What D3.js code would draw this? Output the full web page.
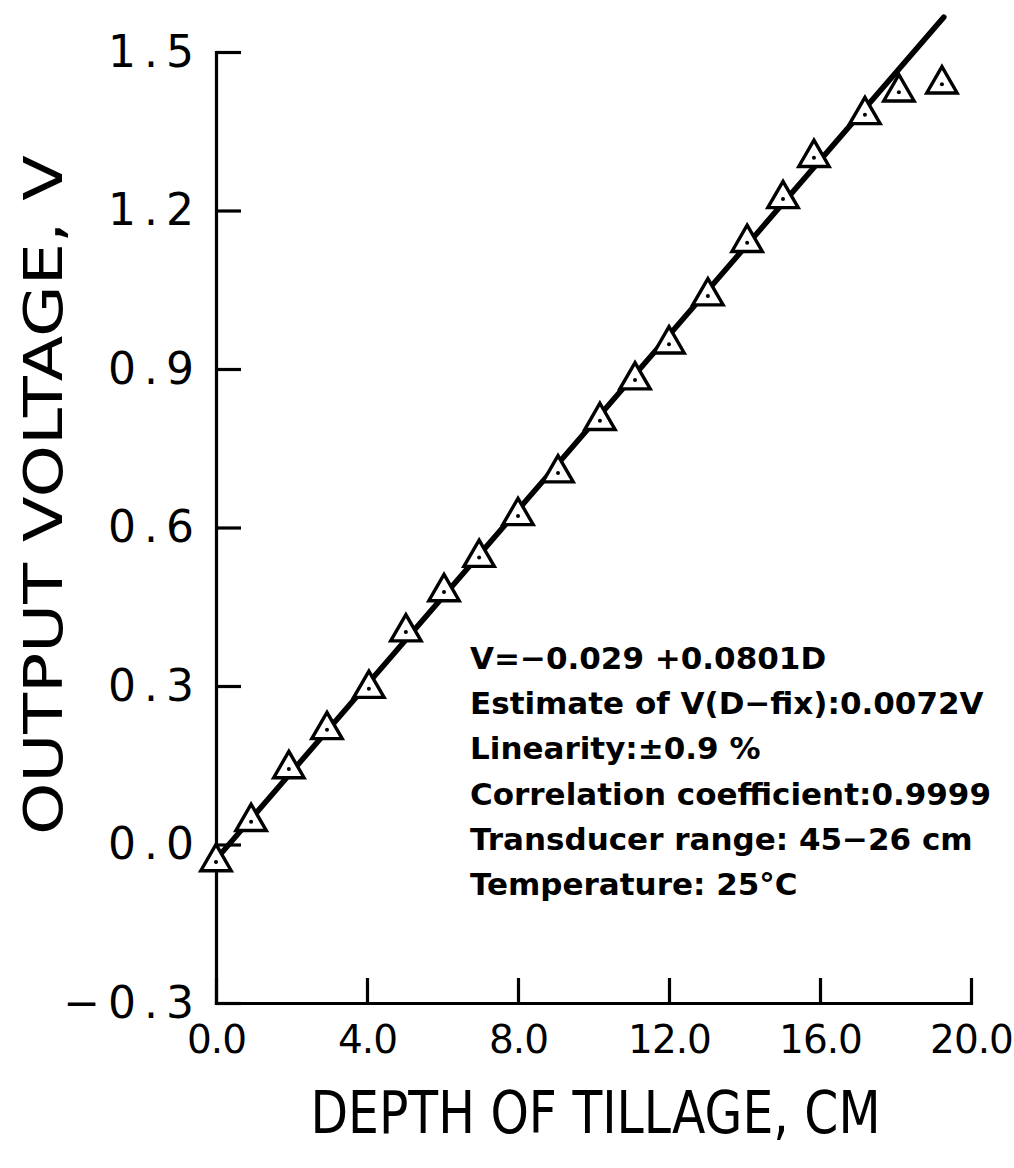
<!DOCTYPE html>
<html>
<head>
<meta charset="utf-8">
<script src="https://cdn.jsdelivr.net/npm/d3@7"></script>
<style>
  html, body { margin: 0; padding: 0; background: #fff; }
  svg { display: block; }
</style>
</head>
<body>
<div id="chart"></div>
<script>
// ---- data ----
const depth   = [0, 0.93, 1.93, 2.94, 4.05, 5.03, 6.04, 6.97, 8.0, 9.06, 10.17, 11.1, 12.0, 13.03, 14.07, 15.02, 15.84, 17.19, 18.09, 19.23];
const voltage = [-0.033, 0.043, 0.143, 0.217, 0.295, 0.402, 0.478, 0.543, 0.622, 0.703, 0.802, 0.879, 0.947, 1.038, 1.139, 1.222, 1.300, 1.381, 1.424, 1.439];
const fitDepth   = [0.1, 19.28];
const fitVoltage = [-0.02, 1.566];
const xTicks = [0, 4, 8, 12, 16, 20];
const yTicks = [-0.3, 0, 0.3, 0.6, 0.9, 1.2, 1.5];
const xTitle = "DEPTH OF TILLAGE, CM";
const yTitle = "OUTPUT VOLTAGE, V";
const notes = [
  "V=\u22120.029 +0.0801D",
  "Estimate of V(D\u2212fix):0.0072V",
  "Linearity:\u00b10.9 %",
  "Correlation coefficient:0.9999",
  "Transducer range: 45\u221226 cm",
  "Temperature: 25\u00b0C"
];

// ---- drawing ----
const W = 1014, H = 1168;
const svg = d3.select("#chart").append("svg")
  .attr("width", W).attr("height", H)
  .style("background", "#fff");

const x = d3.scaleLinear().domain([0, 20]).range([216, 971]);
const y = d3.scaleLinear().domain([-0.3, 1.5]).range([1003, 52]);

const fmt = d3.format(".1f");
const font = "'DejaVu Sans', sans-serif";

const xAxis = d3.axisBottom(x).tickValues(xTicks).tickFormat(fmt)
  .tickSizeInner(-25).tickSizeOuter(0).tickPadding(22);
const yAxis = d3.axisLeft(y).tickValues(yTicks).tickFormat(fmt)
  .tickSizeInner(-25).tickSizeOuter(0).tickPadding(14);

const gx = svg.append("g").attr("transform", "translate(0,1003)").call(xAxis);
const gy = svg.append("g").attr("transform", "translate(216,0)").call(yAxis);

[gx, gy].forEach(g => {
  g.select(".domain").attr("stroke", "#000").attr("stroke-width", 3.2).attr("stroke-linecap", "square");
  g.selectAll(".tick line").attr("stroke", "#000").attr("stroke-width", 3.2);
  g.selectAll(".tick text")
    .attr("fill", "#000")
    .style("font-family", font);
});
gy.selectAll(".tick text").style("font-size", "44px").style("letter-spacing", "8px");
gx.selectAll(".tick text").style("font-size", "39px").style("letter-spacing", "-1px");

// fitted line
const line = d3.line().x(d => x(d[0])).y(d => y(d[1]));
svg.append("path")
  .datum(fitDepth.map((d, i) => [d, fitVoltage[i]]))
  .attr("d", line)
  .attr("fill", "none")
  .attr("stroke", "#000")
  .attr("stroke-width", 5.5)
  .attr("stroke-linecap", "round");

// triangles
const pts = depth.map((d, i) => [d, voltage[i]]);
const tri = d3.symbol().type(d3.symbolTriangle).size(400);
const pg = svg.append("g");
pg.selectAll("path.tri").data(pts).join("path")
  .attr("class", "tri")
  .attr("d", tri)
  .attr("transform", d => `translate(${x(d[0])},${y(d[1])})`)
  .attr("fill", "#fff")
  .attr("stroke", "#000")
  .attr("stroke-width", 3.4)
  .attr("stroke-linejoin", "miter");
pg.selectAll("circle.dot").data(pts).join("circle")
  .attr("class", "dot")
  .attr("cx", d => x(d[0]))
  .attr("cy", d => y(d[1]))
  .attr("r", 2)
  .attr("fill", "#000");

// axis titles
svg.append("text")
  .attr("x", (x(0) + x(20)) / 2 + 2)
  .attr("y", 1133)
  .attr("text-anchor", "middle")
  .attr("textLength", 570)
  .attr("lengthAdjust", "spacingAndGlyphs")
  .style("font-family", font)
  .style("font-size", "58px")
  .attr("fill", "#000")
  .text(xTitle);

svg.append("text")
  .attr("transform", "translate(62,495) rotate(-90)")
  .attr("text-anchor", "middle")
  .attr("textLength", 680)
  .attr("lengthAdjust", "spacingAndGlyphs")
  .style("font-family", font)
  .style("font-size", "54px")
  .attr("fill", "#000")
  .text(yTitle);

// annotation block
svg.append("g").selectAll("text").data(notes).join("text")
  .attr("x", 470)
  .attr("y", (d, i) => 669 + i * 45.2)
  .style("font-family", font)
  .style("font-size", "31px")
  .style("font-weight", "bold")
  .attr("fill", "#000")
  .text(d => d);
</script>
</body>
</html>
